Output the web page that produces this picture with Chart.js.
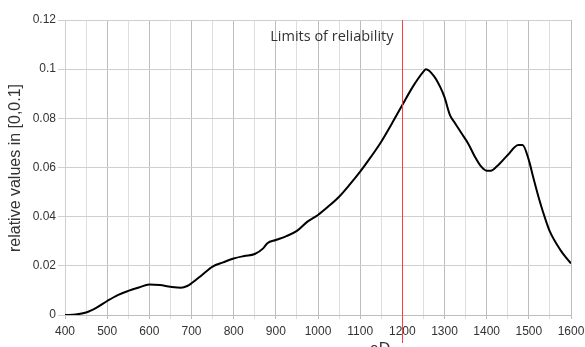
<!DOCTYPE html>
<html>
<head>
<meta charset="utf-8">
<script src="https://cdn.jsdelivr.net/npm/chart.js@4.4.1/dist/chart.umd.min.js"></script>
<style>
  html, body { margin: 0; padding: 0; background: #fff; }
  #wrap { width: 585px; height: 347px; }
</style>
</head>
<body>
<div id="wrap"><canvas id="myChart" width="585" height="347"></canvas></div>
<script>
// eD values along the x axis
const eD = [400, 425, 450, 475, 500, 525, 550, 575, 600, 625, 650, 675, 690, 700, 725, 750, 775, 800, 825, 850,
    870, 880, 900, 925, 950, 975, 1000, 1025, 1050, 1075, 1100, 1125, 1150, 1175, 1200, 1225, 1250, 1256, 1275,
    1290, 1300, 1313, 1325, 1340, 1356, 1372, 1385, 1400, 1410, 1425, 1450, 1475, 1485, 1500, 1510, 1525, 1540,
    1550, 1575, 1590, 1600];
// relative values
const relValues = [0, 0.0002, 0.001, 0.003, 0.0057, 0.0081, 0.0098, 0.0112, 0.0124, 0.0122, 0.0115, 0.0111, 0.0118,
    0.0129, 0.0163, 0.0197, 0.0214, 0.023, 0.024, 0.0248, 0.0271, 0.0292, 0.0305, 0.0321, 0.0342, 0.038, 0.0407,
    0.0442, 0.0481, 0.053, 0.0583, 0.0642, 0.0705, 0.0778, 0.0854, 0.0929, 0.099, 0.1, 0.0972,
    0.0927, 0.0886, 0.0813, 0.078, 0.074, 0.0698, 0.0644, 0.0608, 0.0587, 0.0587, 0.0606, 0.0651, 0.0692, 0.0692,
    0.063, 0.0563, 0.0468, 0.0386, 0.0339, 0.0264, 0.023, 0.021];

const yTickLabels = ['0', '0.02', '0.04', '0.06', '0.08', '0.1', '0.12'];
const reliabilityLimit = 1200;
const limitLabel = 'Limits of reliability';
const xTitle = 'eD';
const yTitle = 'relative values in [0,0.1]';

const points = eD.map((x, i) => ({ x: x, y: relValues[i] }));

// Red limit line, its label and the axis titles
const extras = {
    id: 'extras',
    afterDraw(chart) {
        const ctx = chart.ctx;
        const area = chart.chartArea;
        const xs = chart.scales.x.getPixelForValue(reliabilityLimit);
        const px = Math.round(xs - 0.5) + 0.5;
        ctx.save();
        ctx.strokeStyle = '#ff3c3c';
        ctx.lineWidth = 1;
        ctx.beginPath();
        ctx.moveTo(px, area.top);
        ctx.lineTo(px, 343);
        ctx.stroke();

        ctx.fillStyle = '#333';
        ctx.font = '14.5px "Open Sans", sans-serif';
        ctx.textAlign = 'right';
        ctx.textBaseline = 'alphabetic';
        ctx.fillText(limitLabel, px - 9, 41);

        ctx.font = '16px "Liberation Sans", Arial, sans-serif';
        ctx.textAlign = 'center';
        ctx.fillText(xTitle, 380, 354);

        ctx.translate(16, 168);
        ctx.rotate(-Math.PI / 2);
        ctx.textBaseline = 'middle';
        ctx.fillText(yTitle, 0, 0);
        ctx.restore();
    }
};

const config = {
    type: 'line',
    data: {
        datasets: [{
            data: points,
            borderColor: '#000',
            borderWidth: 2,
            pointRadius: 0,
            fill: false,
            cubicInterpolationMode: 'monotone'
        }]
    },
    options: {
        responsive: false,
        animation: false,
        layout: { padding: { left: 0, right: 14, top: 20, bottom: 0 } },
        plugins: { legend: { display: false }, tooltip: { enabled: false } },
        scales: {
            x: {
                type: 'linear',
                min: 400,
                max: 1600,
                afterFit(scale) {
                    scale.height = 32;
                    scale.paddingRight = 0;
                    scale.paddingLeft = 0;
                },
                grid: {
                    color: c => (c.tick && c.tick.value % 100 === 0) ? '#bdbdbd' : '#dedede',
                    tickLength: 4,
                    tickColor: c => (c.tick && c.tick.value % 100 === 0) ? '#bdbdbd' : '#dedede'
                },
                border: { color: '#bdbdbd' },
                ticks: {
                    stepSize: 50,
                    autoSkip: false,
                    maxRotation: 0,
                    padding: 5,
                    color: '#333',
                    font: { family: '"Liberation Sans", Arial, sans-serif', size: 12 },
                    callback: v => (v % 100 === 0 ? String(v) : '')
                }
            },
            y: {
                min: 0,
                max: 0.12,
                afterFit(scale) { scale.width = 65; },
                grid: { color: '#cfcfcf', tickLength: 7, tickColor: '#cfcfcf' },
                border: { color: '#cfcfcf' },
                ticks: {
                    stepSize: 0.02,
                    padding: 2,
                    color: '#333',
                    font: { family: '"Liberation Sans", Arial, sans-serif', size: 12 },
                    callback: (v, i) => yTickLabels[i]
                }
            }
        }
    },
    plugins: [extras]
};

new Chart(document.getElementById('myChart').getContext('2d'), config);
</script>
</body>
</html>
